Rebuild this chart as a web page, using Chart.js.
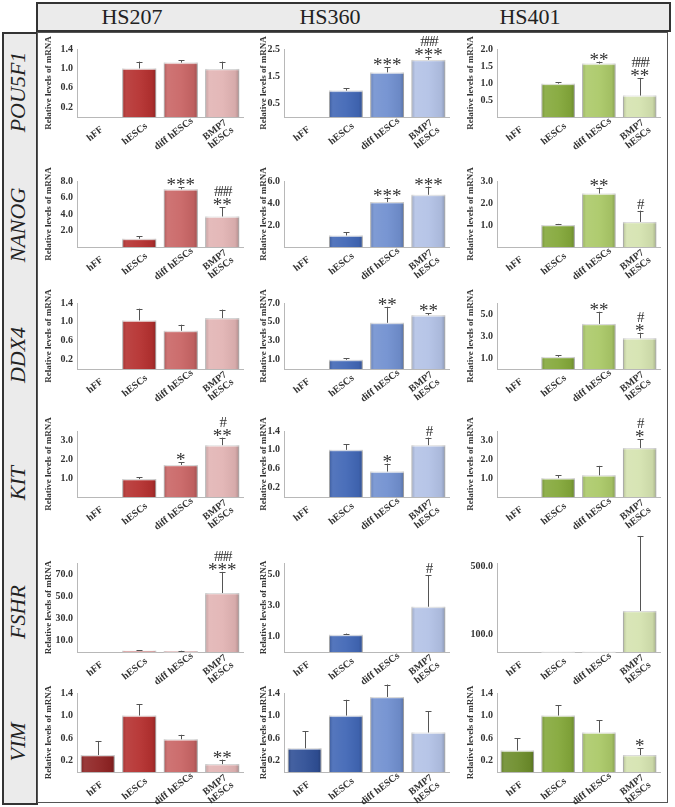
<!DOCTYPE html>
<html>
<head>
<meta charset="utf-8">
<script src="https://cdn.jsdelivr.net/npm/chart.js@4.4.1/dist/chart.umd.min.js"></script>
<style>
  body { margin: 0; background: #fff; width: 675px; height: 807px; position: relative; overflow: hidden; font-family: "Liberation Serif", "Times New Roman", serif; }
  #head { position: absolute; left: 36px; top: 2px; width: 631px; height: 26px; background: #ebebeb; border: 2px solid #333; }
  #head span { position: absolute; top: 0px; font-size: 22px; color: #222; transform: translateX(-50%); }
  #side { position: absolute; left: 2px; top: 32px; width: 32px; height: 769px; background: #ebebeb; border: 2px solid #333; }
  .gene { position: absolute; left: 18px; font-style: italic; font-size: 22px; color: #222; white-space: nowrap; transform: translate(-50%, -50%) rotate(-90deg); }
  #main { position: absolute; left: 37px; top: 32px; width: 631px; height: 771px; border: 1px solid #555; box-sizing: border-box; }
  canvas { position: absolute; }
</style>
</head>
<body>
<div id="head"></div>
<div id="side"></div>
<div id="main"></div>
<script>
const categories = ['hFF', 'hESCs', 'diff hESCs', ['BMP7', 'hESCs']];
const cellLines = ['HS207', 'HS360', 'HS401'];
const genes = ['POU5F1', 'NANOG', 'DDX4', 'KIT', 'FSHR', 'VIM'];

// each gene: one inner array per cell line (HS207, HS360, HS401)
const pou5f1Values = [[0, 1.00, 1.12, 0.99], [0, 0.97, 1.64, 2.10], [0, 0.98, 1.57, 0.63]];
const pou5f1Errors = [[0, 0.14, 0.05, 0.15], [0, 0.08, 0.19, 0.12], [0, 0.04, 0.06, 0.52]];
const pou5f1Signif = [['', '', '', ''], ['', '', '***', '###\n***'], ['', '', '**', '###\n**']];
const pou5f1Ticks = [[0.2, 0.6, 1.0, 1.4], [0.5, 1.5, 2.5], [0.5, 1.0, 1.5, 2.0]];
const pou5f1Max = [1.4, 2.5, 2.0];

const nanogValues = [[0, 1.0, 7.0, 3.7], [0, 1.05, 4.08, 4.75], [0, 1.0, 2.43, 1.14]];
const nanogErrors = [[0, 0.3, 0.25, 1.1], [0, 0.3, 0.42, 0.75], [0, 0.05, 0.27, 0.51]];
const nanogSignif = [['', '', '***', '###\n**'], ['', '', '***', '***'], ['', '', '**', '#']];
const nanogTicks = [[2, 4, 6, 8], [2, 4, 6], [1, 2, 3]];
const nanogMax = [8, 6, 3];

const ddx4Values = [[0, 1.03, 0.81, 1.08], [0, 0.97, 4.9, 5.7], [0, 1.1, 4.1, 2.8]];
const ddx4Errors = [[0, 0.25, 0.13, 0.18], [0, 0.17, 1.7, 0.2], [0, 0.15, 1.1, 0.5]];
const ddx4Signif = [['', '', '', ''], ['', '', '**', '**'], ['', '', '**', '#\n*']];
const ddx4Ticks = [[0.2, 0.6, 1.0, 1.4], [1, 3, 5, 7], [1, 3, 5]];
const ddx4Max = [1.4, 7, 6];

const kitValues = [[0, 0.95, 1.7, 2.75], [0, 1.0, 0.54, 1.1], [0, 1.0, 1.15, 2.6]];
const kitErrors = [[0, 0.1, 0.15, 0.4], [0, 0.12, 0.17, 0.16], [0, 0.15, 0.5, 0.45]];
const kitSignif = [['', '', '*', '#\n**'], ['', '', '*', '#'], ['', '', '', '#\n*']];
const kitTicks = [[1, 2, 3], [0.2, 0.6, 1.0, 1.4], [1, 2, 3]];
const kitMax = [3.5, 1.4, 3.5];

const fshrValues = [[0, 1.2, 0.8, 53], [0, 1.1, 0, 2.9], [0, 1, 1, 240]];
const fshrErrors = [[0, 0.5, 0.3, 19], [0, 0.08, 0, 2.0], [0, 0, 0, 438]];
const fshrSignif = [['', '', '', '###\n***'], ['', '', '', '#'], ['', '', '', '']];
const fshrTicks = [[10, 30, 50, 70], [1, 3, 5], [100, 500]];
const fshrMax = [80, 5.7, 520];

const vimValues = [[0.3, 1.0, 0.58, 0.14], [0.42, 1.0, 1.33, 0.7], [0.38, 1.0, 0.7, 0.3]];
const vimErrors = [[0.25, 0.2, 0.08, 0.08], [0.3, 0.28, 0.22, 0.38], [0.22, 0.18, 0.22, 0.12]];
const vimSignif = [['', '', '', '**'], ['', '', '', ''], ['', '', '', '*']];
const vimTicks = [[0.2, 0.6, 1.0, 1.4], [0.2, 0.6, 1.0, 1.4], [0.2, 0.6, 1.0, 1.4]];
const vimMax = [1.4, 1.4, 1.4];

const geneSets = [
  [pou5f1Values, pou5f1Errors, pou5f1Signif, pou5f1Ticks, pou5f1Max],
  [nanogValues, nanogErrors, nanogSignif, nanogTicks, nanogMax],
  [ddx4Values, ddx4Errors, ddx4Signif, ddx4Ticks, ddx4Max],
  [kitValues, kitErrors, kitSignif, kitTicks, kitMax],
  [fshrValues, fshrErrors, fshrSignif, fshrTicks, fshrMax],
  [vimValues, vimErrors, vimSignif, vimTicks, vimMax],
];

const barColors = [
  ['#8f2323', '#b5302f', '#c96565', '#e2b4b4'],
  ['#2f4f96', '#4167b6', '#7190d0', '#b3c2e6'],
  ['#6d8d2b', '#84a83a', '#abc968', '#d5e3b0'],
];

// layout of the figure grid
const SERIF = "'Liberation Serif', 'Times New Roman', serif";
const cols = [{ left: 40, width: 205, axisW: 37 }, { left: 258, width: 193, axisW: 26 }, { left: 462, width: 200, axisW: 35 }];
const rows = [
  { plotTop: 49, plotBottom: 117 },
  { plotTop: 181, plotBottom: 247 },
  { plotTop: 303, plotBottom: 369 },
  { plotTop: 431, plotBottom: 497 },
  { plotTop: 563, plotBottom: 652 },
  { plotTop: 693, plotBottom: 772 },
];
const headX = [132, 330, 530];
const geneY = [92, 225, 355, 483, 612, 742];
const PAD_TOP = 30;
const X_AXIS_H = 36;

const head = document.getElementById('head');
cellLines.forEach((name, i) => {
  const s = document.createElement('span');
  s.textContent = name;
  s.style.left = (headX[i] - 38) + 'px';
  head.appendChild(s);
});
genes.forEach((name, i) => {
  const d = document.createElement('div');
  d.className = 'gene';
  d.textContent = name;
  d.style.top = geneY[i] + 'px';
  document.body.appendChild(d);
});

const barExtras = {
  id: 'barExtras',
  afterDatasetsDraw(chart, args, opts) {
    const { ctx } = chart;
    const y = chart.scales.y;
    const meta = chart.getDatasetMeta(0);
    ctx.save();
    meta.data.forEach((bar, i) => {
      const v = opts.values[i];
      const e = opts.errors[i];
      const half = bar.width / 2;
      const barTop = y.getPixelForValue(v);
      if (v > 0) {
        // soft bevel shading across the bar
        const g = ctx.createLinearGradient(bar.x - half, 0, bar.x + half, 0);
        g.addColorStop(0, 'rgba(0,0,0,0.18)');
        g.addColorStop(0.12, 'rgba(255,255,255,0.10)');
        g.addColorStop(0.5, 'rgba(255,255,255,0.05)');
        g.addColorStop(0.88, 'rgba(0,0,0,0.05)');
        g.addColorStop(1, 'rgba(0,0,0,0.22)');
        ctx.fillStyle = g;
        ctx.fillRect(bar.x - half, barTop, bar.width, bar.base - barTop);
        ctx.fillStyle = 'rgba(255,255,255,0.45)';
        ctx.fillRect(bar.x - half, barTop, bar.width, 1.5);
      }
      let top = barTop;
      if (e > 0) {
        const errTop = y.getPixelForValue(v + e);
        ctx.strokeStyle = '#555';
        ctx.lineWidth = 1;
        ctx.beginPath();
        ctx.moveTo(Math.round(bar.x) + 0.5, barTop);
        ctx.lineTo(Math.round(bar.x) + 0.5, errTop);
        ctx.moveTo(Math.round(bar.x) - 2.5, Math.round(errTop) + 0.5);
        ctx.lineTo(Math.round(bar.x) + 3.5, Math.round(errTop) + 0.5);
        ctx.stroke();
        top = errTop;
      }
      const marks = opts.signif[i];
      if (!marks) return;
      let target = top - 2;
      ctx.fillStyle = '#333';
      ctx.textAlign = 'center';
      ctx.textBaseline = 'alphabetic';
      marks.split('\n').reverse().forEach(txt => {
        const star = txt[0] === '*';
        ctx.font = (star ? '19px ' : '15px ') + SERIF;
        ctx.letterSpacing = star ? '0px' : '-2px';
        const m = ctx.measureText(txt);
        const yy = target - m.actualBoundingBoxDescent;
        ctx.fillText(txt, bar.x, yy);
        target = yy - m.actualBoundingBoxAscent - 2;
      });
    });
    ctx.restore();
  },
  // category labels, centred under each bar and tilted like the original
  afterDraw(chart) {
    const { ctx } = chart;
    const x = chart.scales.x;
    ctx.save();
    ctx.font = 'bold 10px ' + SERIF;
    ctx.fillStyle = '#333';
    ctx.textAlign = 'center';
    ctx.textBaseline = 'middle';
    chart.data.labels.forEach((lab, i) => {
      const lines = Array.isArray(lab) ? lab : [lab];
      const w = Math.max(...lines.map(t => ctx.measureText(t).width));
      const px = x.getPixelForValue(i) - w * 0.15;
      const py = x.top + 17;
      ctx.save();
      ctx.translate(px, py);
      ctx.rotate(-38 * Math.PI / 180);
      lines.forEach((t, k) => ctx.fillText(t, 0, (k - (lines.length - 1) / 2) * 10));
      ctx.restore();
    });
    ctx.restore();
  }
};

const labelFont = { family: SERIF, size: 9, weight: 'bold' };

geneSets.forEach(([values, errors, signif, ticks, maxes], r) => {
  cols.forEach((col, c) => {
    const row = rows[r];
    const top = row.plotTop - PAD_TOP;
    const cv = document.createElement('canvas');
    const h = row.plotBottom - top + X_AXIS_H + 2;
    cv.width = col.width;
    cv.height = h;
    cv.style.left = col.left + 'px';
    cv.style.top = top + 'px';
    cv.style.width = col.width + 'px';
    cv.style.height = h + 'px';
    document.body.appendChild(cv);

    new Chart(cv, {
      type: 'bar',
      data: {
        labels: categories,
        datasets: [{
          data: values[c],
          backgroundColor: barColors[c],
          borderColor: 'rgba(0,0,0,0.25)',
          borderWidth: 1,
          barPercentage: 0.82,
          categoryPercentage: 1,
        }],
      },
      options: {
        responsive: false,
        animation: false,
        devicePixelRatio: 1,
        layout: { padding: { top: PAD_TOP, bottom: 2, left: 0, right: 2 } },
        plugins: {
          legend: { display: false },
          tooltip: { enabled: false },
          barExtras: { values: values[c], errors: errors[c], signif: signif[c] },
        },
        scales: {
          x: {
            grid: { display: false, drawTicks: false },
            border: { display: true, color: '#b8b8b8' },
            ticks: { display: false },
            afterFit: s => { s.height = X_AXIS_H; },
          },
          y: {
            min: 0,
            max: maxes[c],
            grid: { display: false, drawTicks: false },
            border: { display: true, color: '#b8b8b8' },
            afterBuildTicks: s => { s.ticks = ticks[c].map(v => ({ value: v })); },
            ticks: { color: '#333', font: { family: SERIF, size: 10, weight: 'bold' }, padding: 4, callback: v => Number(v).toFixed(1) },
            title: {
              display: !(r === 4 && c === 2),
              text: 'Relative levels of mRNA', color: '#333', font: labelFont,
              padding: { top: c === 1 ? 0 : 3, bottom: 0 },
            },
            afterFit: s => { s.width = col.axisW; },
          },
        },
      },
      plugins: [barExtras],
    });
  });
});
</script>
</body>
</html>
